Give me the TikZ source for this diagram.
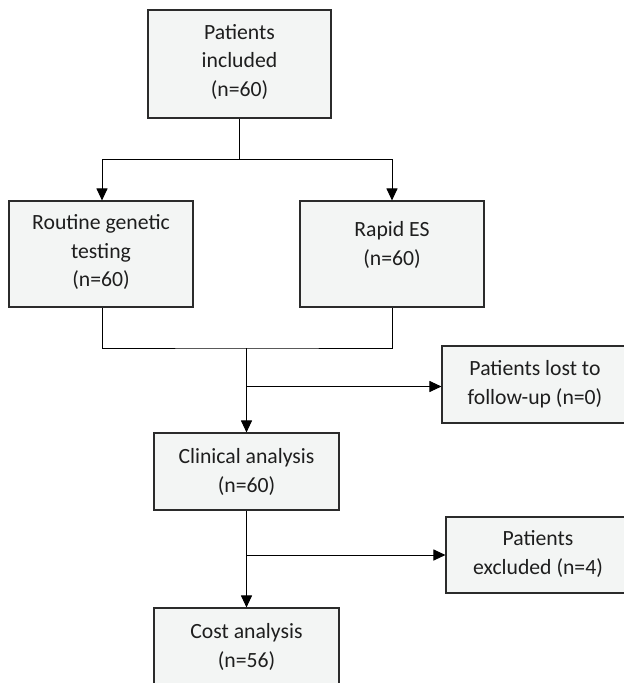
\documentclass[tikz,border=0pt]{standalone}
\usepackage{fontspec}
\setmainfont{Carlito}
\usetikzlibrary{arrows.meta}
\definecolor{boxfill}{HTML}{F3F5F4}
\definecolor{boxdraw}{HTML}{2B2B2B}
\definecolor{txtcol}{HTML}{1E1E1E}
\begin{document}
\begin{tikzpicture}[x=1pt,y=-1pt,
  box/.style={draw=boxdraw, line width=1.1pt, fill=boxfill, inner sep=0pt},
  txt/.style={align=center, inner sep=0pt, font=\fontsize{21.7}{28.5}\selectfont, text=txtcol},
  conn/.style={line width=1pt, draw=black},
  arr/.style={conn, -{Triangle[width=11pt,length=12pt]}}]
\useasboundingbox (0,0) rectangle (624,683);
\clip (0,0) rectangle (624,683);
\fill[white] (0,0) rectangle (624,683);
% boxes
\node[box, minimum width=183pt, minimum height=108pt] (b1) at (239.5,64) {};
\node[box, minimum width=184pt, minimum height=106pt] (b2) at (101,254) {};
\node[box, minimum width=184pt, minimum height=106pt] (b3) at (392,254) {};
\node[box, minimum width=186pt, minimum height=77pt] (b5) at (535,384.5) {};
\node[box, minimum width=185pt, minimum height=77pt] (b4) at (246.5,471.5) {};
\node[box, minimum width=184pt, minimum height=76pt] (b6) at (538,555) {};
\node[box, minimum width=185pt, minimum height=77pt] (b7) at (246.5,646.5) {};
% texts
\node[txt] (t1) at (239.5,62) {Patients\\included\\(n=60)};
\node[txt] (t2) at (101,252) {Routine genetic\\testing\\(n=60)};
\node[txt] (t3) at (392,245) {Rapid ES\\(n=60)};
\node[txt] (t5) at (535,384) {Patients lost to\\follow-up (n=0)};
\node[txt] (t4) at (246.5,472) {Clinical analysis\\(n=60)};
\node[txt] (t6) at (538,554) {Patients\\excluded (n=4)};
\node[txt] (t7) at (246.5,647) {Cost analysis\\(n=56)};
% junctions
\coordinate (j1) at (239.5,159);
\coordinate (j2) at (246.5,348);
\coordinate (j3) at (246.5,386.5);
\coordinate (j4) at (246.5,555);
% connectors
\draw[conn] (b1.south) -- (j1);
\draw[arr] (j1) -| ([xshift=1pt]b2.north);
\draw[arr] (j1) -| (b3.north);
\draw[conn] ([xshift=1pt]b2.south) |- (j2) -| (b3.south);
\draw[arr] (j2) -- (b4.north);
\draw[arr] (j3) -- (j3 -| b5.west);
\draw[arr] (b4.south) -- (b7.north);
\draw[arr] (j4) -- (b6.west);
\end{tikzpicture}
\end{document}
